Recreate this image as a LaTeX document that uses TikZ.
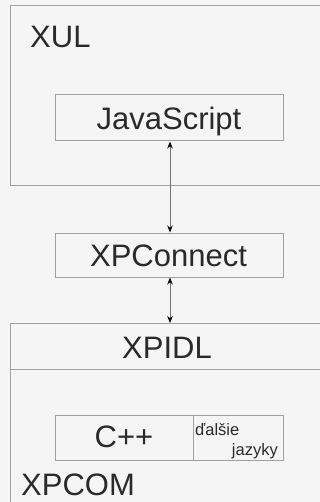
\documentclass[tikz,border=0pt]{standalone}
\usepackage{fontspec}
\setmainfont{Liberation Sans}
\usetikzlibrary{arrows.meta}
\definecolor{bg}{HTML}{F5F5F5}
\definecolor{edge}{HTML}{A0A0A0}
\definecolor{ink}{HTML}{2A2A2A}
\begin{document}
\begin{tikzpicture}[x={(1pt,0)},y={(0,-1pt)},
  frame/.style={draw=edge,line width=1pt},
  box/.style={draw=edge,line width=1pt,rectangle,inner sep=0pt,minimum width=228pt},
  big/.style={font=\fontsize{31}{31}\selectfont,text=ink,inner sep=0pt},
  small/.style={font=\fontsize{16.5}{16.5}\selectfont,text=ink,inner sep=0pt},
  link/.style={draw=edge!70!black,line width=0.8pt,{Stealth[length=7pt,width=5.5pt,black]}-{Stealth[length=7pt,width=5.5pt,black]}}]
\useasboundingbox (0,0) rectangle (320,502);
\fill[bg] (0,0) rectangle (320,502);
% layers
\draw[frame] (10,6) rectangle (340,186);
\draw[frame] (10,323) rectangle (340,369);
\draw[frame] (10,369) rectangle (340,520);
\node[big,anchor=base west] (xul) at (30,48) {XUL};
% boxes
\node[box,minimum height=46pt] (js) at (169,118) {};
\node[big,anchor=base] (jst) at (169,130) {JavaScript};
\node[box,minimum height=44pt] (xpc) at (169,255) {};
\node[big,anchor=base] (xpct) at (168.5,266) {XPConnect};
\coordinate (xpidl) at (170,323);
\node[big,anchor=base] (xpidlt) at (167,358) {XPIDL};
\node[box,minimum height=45pt] (cpp) at (169,437.5) {};
\draw[frame] (193,415) -- (193,460);
\node[big,anchor=base] (cppt) at (124,447) {C++};
\node[small,anchor=base west] (dal) at (195,435) {ďalšie};
\node[small,anchor=base east] (jaz) at (278,455) {jazyky};
\node[big,anchor=base west] (xpcom) at (21,495) {XPCOM};
% connectors
\draw[link] (js.south -| 170,0) -- (xpc.north -| 170,0);
\draw[link] (xpc.south -| 170,0) -- (xpidl);
\end{tikzpicture}
\end{document}
